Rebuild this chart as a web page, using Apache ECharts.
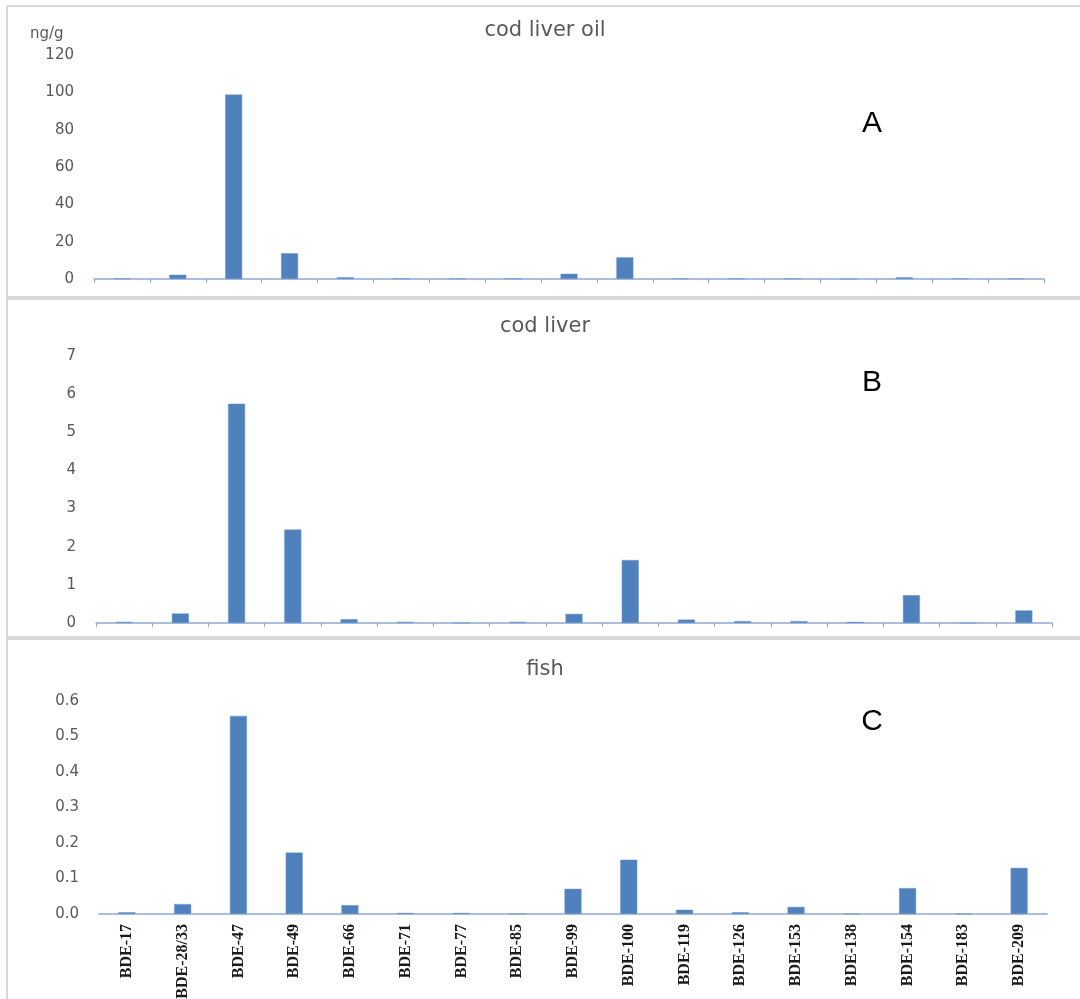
<!DOCTYPE html>
<html>
<head>
<meta charset="utf-8">
<script src="https://cdn.jsdelivr.net/npm/echarts@6/dist/echarts.min.js"></script>
<style>
  html, body { margin: 0; padding: 0; background: #fff; }
  #chart { width: 1080px; height: 999px; }
</style>
</head>
<body>
<div id="chart"></div>
<script>
// congeners on the x axis (same for all three panels)
const categories = ['BDE-17', 'BDE-28/33', 'BDE-47', 'BDE-49', 'BDE-66', 'BDE-71', 'BDE-77', 'BDE-85',
  'BDE-99', 'BDE-100', 'BDE-119', 'BDE-126', 'BDE-153', 'BDE-138', 'BDE-154', 'BDE-183', 'BDE-209']

// ng/g
const codLiverOil = [0.3, 2.3, 98.8, 13.8, 0.9, 0.2, 0.2, 0.2, 2.8, 11.6, 0.2, 0.2, 0.2, 0, 0.9, 0.2, 0.2]
const codLiver = [0.03, 0.25, 5.75, 2.45, 0.1, 0.03, 0, 0.03, 0.24, 1.65, 0.09, 0.05, 0.05, 0.03, 0.73, 0, 0.33]
const fish = [0.005, 0.028, 0.558, 0.173, 0.025, 0.003, 0.003, 0, 0.071, 0.153, 0.012, 0.005, 0.02, 0, 0.073, 0, 0.13]

const panelTitles = ['cod liver oil', 'cod liver', 'fish']
const panelLetters = ['A', 'B', 'C']

const barColor = '#4f81bd'
const axisColor = '#8eaad6'
const greyText = '#595959'
const tickFont = { color: greyText, fontSize: 15, fontFamily: 'DejaVu Sans' }

const chart = echarts.init(document.getElementById('chart'), null, { renderer: 'canvas' })

// fixed pixel grids, no auto shrinking for the rotated labels
const grids = [
  { left: 94, top: 55, width: 950, height: 224, outerBoundsMode: 'none' },
  { left: 96, top: 356, width: 956, height: 267, outerBoundsMode: 'none' },
  { left: 99, top: 701, width: 948, height: 213, outerBoundsMode: 'none' }
]

function xAxisFor(i, showLabels) {
  return {
    type: 'category',
    gridIndex: i,
    data: categories,
    axisLine: { lineStyle: { color: axisColor, width: 1.5 } },
    axisTick: { show: !showLabels, interval: 0, length: 4, lineStyle: { color: axisColor } },
    axisLabel: showLabels ? {
      show: true,
      rotate: 90,
      interval: 0,
      margin: 10,
      color: '#1a1a1a',
      fontSize: 16,
      fontWeight: 'bold',
      fontFamily: 'Liberation Serif'
    } : { show: false }
  }
}

function yAxisFor(i, max, interval, fmt) {
  return {
    type: 'value',
    gridIndex: i,
    min: 0,
    max: max,
    interval: interval,
    axisLine: { show: false },
    axisTick: { show: false },
    splitLine: { show: false },
    axisLabel: Object.assign({ margin: 20, formatter: fmt }, tickFont)
  }
}

function barSeries(i, data) {
  return {
    type: 'bar',
    xAxisIndex: i,
    yAxisIndex: i,
    data: data,
    barWidth: 17,
    itemStyle: { color: barColor, borderColor: '#6f97cc', borderWidth: 0.5 },
    silent: true
  }
}

const panelBoxes = [[6, 297], [299, 637], [639, 1006]]

chart.setOption({
  animation: false,
  title: panelTitles.map((t, i) => ({
    text: t,
    left: 540,
    textAlign: 'center',
    top: [15, 311, 654][i],
    textStyle: { color: greyText, fontSize: 21, fontWeight: 'normal', fontFamily: 'DejaVu Sans' }
  })),
  grid: grids,
  xAxis: [xAxisFor(0, false), xAxisFor(1, false), xAxisFor(2, true)],
  yAxis: [
    yAxisFor(0, 120, 20),
    yAxisFor(1, 7, 1),
    yAxisFor(2, 0.6, 0.1, v => v.toFixed(1))
  ],
  series: [barSeries(0, codLiverOil), barSeries(1, codLiver), barSeries(2, fish)],
  graphic: [
    ...panelBoxes.map(b => ({
      type: 'rect',
      silent: true,
      z: -1,
      shape: { x: 7, y: b[0], width: 1090, height: b[1] - b[0] },
      style: { fill: 'none', stroke: '#d9d9d9', lineWidth: 2 }
    })),
    {
      type: 'text',
      left: 30,
      top: 27,
      style: { text: 'ng/g', fill: greyText, font: '15px "DejaVu Sans"' }
    },
    ...panelLetters.map((l, i) => ({
      type: 'text',
      x: 872,
      y: [124, 383, 722][i],
      style: {
        text: l, fill: '#000', font: '30px "Liberation Sans"',
        align: 'center', verticalAlign: 'middle'
      }
    }))
  ]
})

window.addEventListener('resize', () => chart.resize())
</script>
</body>
</html>
